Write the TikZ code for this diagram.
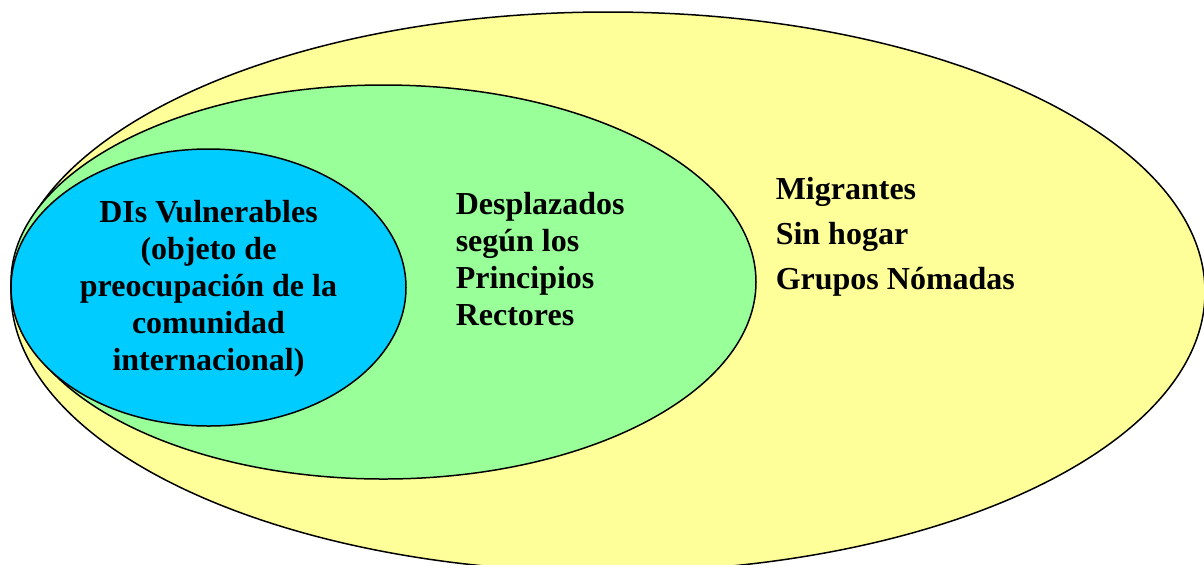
\documentclass[tikz,border=0pt]{standalone}
\usepackage{fontspec}
\setmainfont{Liberation Serif}
\definecolor{amarillo}{HTML}{FFFF99}
\definecolor{verde}{HTML}{99FF99}
\definecolor{celeste}{HTML}{00CCFF}
\begin{document}
\begin{tikzpicture}[x=0.5pt, y=-0.5pt, line width=0.75pt,
    font=\fontsize{16}{18.5}\selectfont\bfseries,
    texto/.style={inner sep=0pt}]
            \useasboundingbox (0,0) rectangle (1204,564);
            \draw[fill=amarillo] (608,292) ellipse [x radius=597, y radius=280];
            \draw[fill=verde] (383.5,282) ellipse [x radius=372.5, y radius=197];
            \draw[fill=celeste] (208.5,287.5) ellipse [x radius=197.5, y radius=138.5];
            \node[texto, align=center] (vulnerables) at (208.5,288.5) {DIs Vulnerables\\(objeto de\\preocupación de la\\comunidad\\internacional)};
            \node[texto, align=left, anchor=west] (desplazados) at (455,259.5) {Desplazados\\según los\\Principios\\Rectores};
            \node[texto, align=left, anchor=west, font=\fontsize{16}{22.5}\selectfont\bfseries] (otros) at (775,237) {Migrantes\\Sin hogar\\Grupos Nómadas};
    \end{tikzpicture}
\end{document}
